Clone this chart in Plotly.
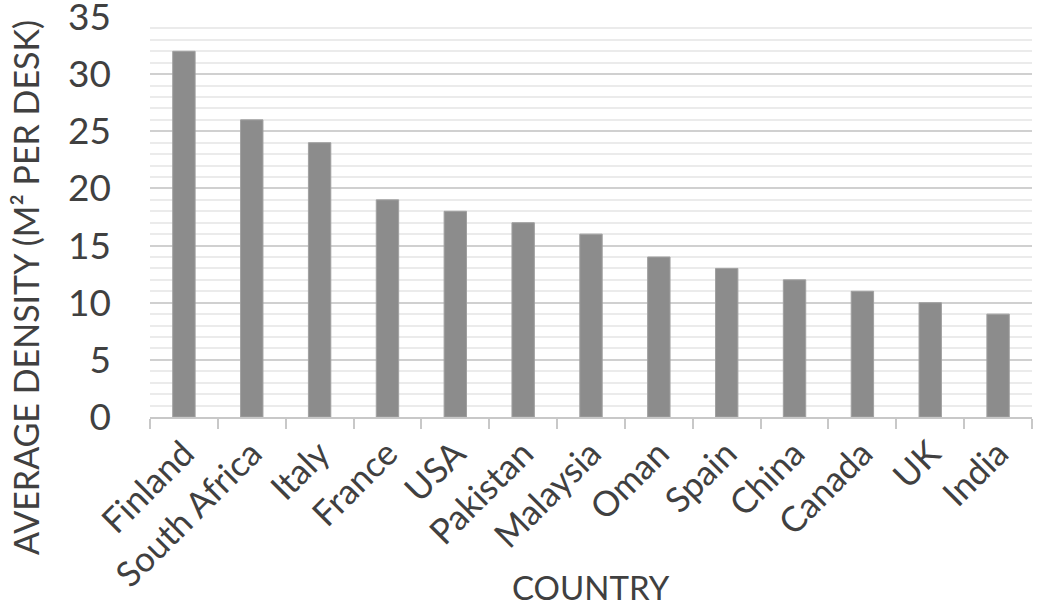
import plotly.graph_objects as go

countries = ["Finland", "South Africa", "Italy", "France", "USA", "Pakistan", "Malaysia",
             "Oman", "Spain", "China", "Canada", "UK", "India"]
density = [32, 26, 24, 19, 18, 17, 16, 14, 13, 12, 11, 10, 9]
y_ticks = [0, 5, 10, 15, 20, 25, 30, 35]

font_family = "Lato"
text_color = "#404040"

W, H = 1037, 606
L, R, T, B = 150, 5, 17, 189
pw, ph = W - L - R, H - T - B

fig = go.Figure(go.Bar(
    x=countries, y=density,
    marker=dict(color="#8c8c8c", line=dict(color="#a0a0a0", width=1)),
    width=0.33,
))

fig.update_layout(
    width=W, height=H,
    margin=dict(l=L, r=R, t=T, b=B),
    plot_bgcolor="white", paper_bgcolor="white",
    showlegend=False,
    font=dict(family=font_family, color=text_color),
    annotations=[
        dict(text="AVERAGE DENSITY (M² PER DESK)", textangle=-90,
             xref="paper", yref="paper", x=(25 - L) / pw, y=(H - B - 288) / ph,
             xanchor="center", yanchor="middle", showarrow=False,
             font=dict(family=font_family, size=34, color=text_color)),
        dict(text="COUNTRY",
             xref="paper", yref="paper", x=0.5, y=(H - B - 587) / ph,
             xanchor="center", yanchor="middle", showarrow=False,
             font=dict(family=font_family, size=33, color=text_color)),
    ],
)
fig.update_xaxes(
    tickangle=-45,
    tickfont=dict(family=font_family, size=35, color=text_color),
    showline=True, linecolor="#c8c8c8", linewidth=2,
    ticks="outside", ticklen=10, tickcolor="#c8c8c8", tickwidth=2,
    tickson="boundaries",
    showgrid=False,
    automargin=False,
)
fig.update_yaxes(
    range=[0, 35], tickvals=y_ticks, ticktext=[str(v) for v in y_ticks],
    tickfont=dict(family=font_family, size=37, color=text_color),
    ticklabelstandoff=38,
    ticklabeloverflow="allow",
    showgrid=True, gridcolor="#d0d0d0", gridwidth=2,
    minor=dict(dtick=1, showgrid=True, gridcolor="#ebebeb", gridwidth=2),
    zeroline=False,
    ticks="",
    automargin=False,
)

fig.write_html("out.html", config={"displayModeBar": False},
               post_script="document.body.style.margin='0';document.body.style.overflow='hidden';")
